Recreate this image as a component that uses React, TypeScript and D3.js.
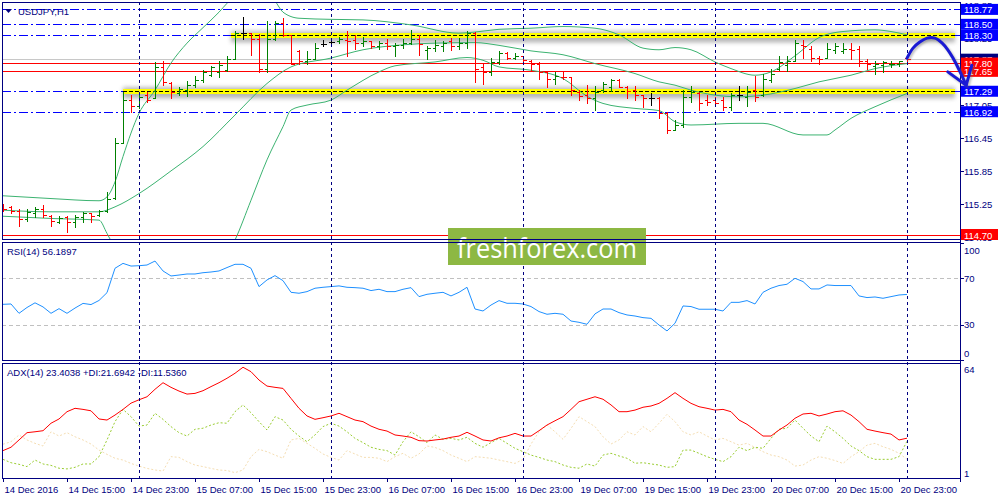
import React from "react";
import * as d3 from "d3";

// USDJPY H1 bars, 14 Dec 07:00 .. 21 Dec 00:00
const opens = [
  115.22, 115.19, 115.13, 114.98, 115.08, 115.17, 115.03, 114.93, 115.01, 114.93,
  115.02, 115.08, 115.05, 115.13, 115.36, 116.35, 117.13, 117.02, 117.22, 117.17,
  117.73, 117.44, 117.25, 117.31, 117.4, 117.49, 117.58, 117.64, 117.67, 117.87,
  118.34, 118.34, 118.23, 117.7, 118.23, 118.53, 118.31, 118.01, 117.83, 117.87,
  118.14, 118.18, 118.19, 118.22, 118.22, 118.17, 118.2, 118.1, 118.17, 118.1,
  118.13, 118.17, 118.23, 118.04, 118.08, 118.11, 118.19, 118.1, 118.16, 118.34,
  117.73, 117.63, 117.81, 117.98, 117.89, 117.92, 117.84, 117.79, 117.63, 117.51,
  117.55, 117.54, 117.28, 117.22, 117.16, 117.32, 117.36, 117.49, 117.36, 117.31,
  117.22, 117.16, 117.16, 116.89, 116.59, 116.68, 117.19, 117.25, 117.13, 117.13,
  117.13, 117.0, 117.22, 117.19, 117.31, 117.22, 117.49, 117.7, 117.76, 117.83,
  118.13, 118.05, 117.89, 117.89, 118.04, 118.02, 118.05, 118.05, 117.83, 117.75,
  117.76, 117.78, 117.78, 117.89,
];
const highs = [
  115.25, 115.22, 115.16, 115.16, 115.2, 115.23, 115.05, 115.03, 115.03, 115.05,
  115.1, 115.09, 115.15, 115.46, 116.45, 117.28, 117.23, 117.22, 117.28, 117.82,
  117.84, 117.46, 117.36, 117.48, 117.57, 117.67, 117.75, 117.84, 117.93, 118.38,
  118.64, 118.34, 118.32, 118.56, 118.56, 118.61, 118.31, 118.04, 118.01, 118.16,
  118.22, 118.2, 118.27, 118.38, 118.31, 118.28, 118.2, 118.2, 118.23, 118.16,
  118.23, 118.4, 118.31, 118.1, 118.22, 118.19, 118.25, 118.25, 118.38, 118.36,
  117.79, 117.9, 118.01, 118.0, 117.99, 117.93, 117.85, 117.81, 117.64, 117.64,
  117.64, 117.54, 117.31, 117.4, 117.39, 117.46, 117.52, 117.52, 117.38, 117.38,
  117.23, 117.25, 117.19, 116.92, 116.77, 117.32, 117.38, 117.28, 117.22, 117.19,
  117.19, 117.25, 117.38, 117.38, 117.57, 117.61, 117.7, 117.93, 117.92, 118.22,
  118.22, 118.1, 117.92, 118.17, 118.17, 118.16, 118.16, 118.1, 117.87, 117.84,
  117.83, 117.83, 117.84, 117.9,
];
const lows = [
  115.13, 115.08, 114.86, 114.95, 115.02, 115.02, 114.86, 114.9, 114.75, 114.84,
  114.93, 114.93, 115.03, 115.1, 115.34, 116.35, 116.92, 116.98, 117.1, 117.17,
  117.4, 117.17, 117.22, 117.21, 117.36, 117.46, 117.57, 117.54, 117.66, 117.87,
  118.23, 117.95, 117.64, 117.64, 118.22, 118.29, 117.78, 117.78, 117.79, 117.87,
  118.1, 118.12, 118.17, 117.92, 118.05, 118.1, 118.08, 118.05, 118.05, 117.93,
  118.08, 118.14, 117.95, 117.87, 118.02, 118.02, 118.04, 118.05, 118.07, 117.46,
  117.43, 117.58, 117.78, 117.87, 117.87, 117.81, 117.66, 117.52, 117.37, 117.43,
  117.52, 117.22, 117.14, 117.07, 116.96, 117.28, 117.3, 117.37, 117.16, 117.14,
  117.01, 117.05, 116.8, 116.53, 116.59, 116.65, 117.1, 116.95, 117.04, 117.02,
  116.95, 116.95, 117.14, 117.02, 117.12, 117.21, 117.46, 117.67, 117.66, 117.83,
  117.89, 117.83, 117.78, 117.89, 117.99, 117.99, 117.87, 117.75, 117.7, 117.61,
  117.63, 117.73, 117.75, 117.79,
];
const closes = [
  115.16, 115.13, 114.98, 115.1, 115.17, 115.05, 114.95, 114.99, 114.93, 115.02,
  115.08, 115.03, 115.13, 115.34, 116.35, 117.13, 117.02, 117.18, 117.14, 117.73,
  117.46, 117.28, 117.33, 117.4, 117.5, 117.64, 117.73, 117.76, 117.87, 118.34,
  118.34, 118.23, 117.7, 118.23, 118.53, 118.31, 117.79, 117.83, 117.87, 118.07,
  118.14, 118.18, 118.23, 118.19, 118.16, 118.2, 118.1, 118.17, 118.1, 118.13,
  118.17, 118.23, 118.15, 118.08, 118.13, 118.17, 118.1, 118.17, 118.34, 117.7,
  117.63, 117.81, 117.98, 117.89, 117.92, 117.85, 117.79, 117.63, 117.52, 117.57,
  117.54, 117.31, 117.21, 117.16, 117.28, 117.43, 117.49, 117.37, 117.3, 117.22,
  117.16, 117.16, 116.89, 116.59, 116.68, 117.19, 117.28, 117.07, 117.1, 117.08,
  117.0, 117.22, 117.22, 117.28, 117.19, 117.52, 117.6, 117.81, 117.83, 118.16,
  118.1, 117.89, 117.87, 118.05, 118.1, 118.05, 118.04, 117.83, 117.79, 117.79,
  117.81, 117.79, 117.83, 117.87,
];

// Bollinger bands read at knots (bar index -> price)
const bbUpperIdx = [0, 6, 12, 13, 14, 15, 17, 19, 21, 23, 25, 27, 28, 31, 33, 34, 35, 37, 41, 45, 51, 57, 59, 62, 66, 70, 74, 77, 80, 82, 84, 86, 89, 91, 94, 96, 99, 102, 105, 109, 111, 113];
const bbUpper = [115.4, 115.35, 115.31, 115.38, 115.65, 116.11, 116.89, 117.31, 117.8, 118.16, 118.44, 118.72, 118.88, 119.2, 119.05, 118.92, 118.72, 118.61, 118.59, 118.58, 118.49, 118.34, 118.36, 118.41, 118.43, 118.46, 118.43, 118.31, 118.07, 118.04, 118.08, 118.04, 117.82, 117.7, 117.58, 117.64, 117.93, 118.26, 118.37, 118.4, 118.37, 118.31];
const bbMiddleIdx = [0, 6, 12, 14, 17, 21, 25, 29, 33, 36, 41, 45, 50, 54, 59, 62, 66, 70, 74, 79, 82, 84, 86, 89, 92, 95, 99, 102, 106, 109, 113];
const bbMiddle = [115.14, 115.11, 115.11, 115.2, 115.44, 115.85, 116.29, 116.86, 117.43, 117.73, 117.89, 118.04, 118.13, 118.16, 118.17, 118.12, 118.02, 117.95, 117.79, 117.61, 117.46, 117.4, 117.31, 117.22, 117.19, 117.22, 117.34, 117.46, 117.58, 117.7, 117.79];
const bbLowerIdx = [0, 6, 12, 13, 14, 16, 20, 24, 27, 29, 31, 33, 35, 36, 38, 41, 43, 47, 49, 54, 58, 60, 62, 66, 70, 73, 75, 79, 82, 84, 86, 92, 95, 100, 103, 104, 106, 109, 113];
const bbLower = [115.03, 114.99, 114.96, 114.72, 114.45, 114.0, 113.6, 113.7, 114.1, 114.6, 115.32, 116.05, 116.65, 116.95, 117.04, 117.13, 117.31, 117.64, 117.75, 117.82, 117.9, 117.85, 117.73, 117.67, 117.52, 117.2, 117.07, 116.98, 116.94, 116.74, 116.68, 116.71, 116.71, 116.5, 116.5, 116.59, 116.8, 117.01, 117.25];

const rsi = [
  47.7, 48, 40, 45, 49, 45.5, 40, 44, 40, 44.5, 48.5, 47.5, 51, 57.7, 78.6, 82.8, 80.5, 80.8, 81.4, 84.8,
  76.3, 72, 72.8, 73.7, 73.7, 74.8, 75.4, 76.3, 79.2, 82, 82, 78.6, 62.9, 68.6, 72.3, 68, 58, 57.2, 58.6, 61.5,
  62.3, 62.9, 63.5, 62.3, 62, 61.5, 59.5, 60.6, 58.6, 58.6, 60.6, 62, 54.3, 56.3, 57.2, 58, 54.9, 58, 62.3, 43.7,
  42, 47.1, 50.9, 48.6, 48.6, 48, 45.8, 41.5, 39.2, 40, 39.2, 33.4, 32.3, 30.6, 39.5, 43.7, 43.7, 40.6, 38.6, 37.7,
  36.3, 35.7, 30, 24.9, 31.5, 46.3, 45.8, 43.5, 43.5, 43.5, 42, 49.4, 49.4, 50.9, 48, 58, 61.5, 63.8, 64.9, 70,
  67.2, 60.9, 60.9, 64.3, 63.8, 63.8, 63.8, 54.9, 53.5, 54, 52.9, 54.3, 55.7, 56.19,
];
const adx = [
  16.4, 18.3, 22.4, 26.5, 27, 27.6, 31.8, 34.2, 38.3, 40.2, 39.6, 38.8, 34.2, 33.6, 36.4, 39.6, 43.1, 45, 46.7, 50.9,
  54.6, 52, 49.9, 48.2, 48.6, 50.1, 52.4, 54.6, 57.1, 59.9, 63.3, 60.8, 56.1, 52.7, 52, 51.4, 45.8, 40.2, 35.9, 34,
  34.9, 35.9, 37.4, 35.5, 33.6, 32.7, 30.2, 28.4, 27.4, 25.2, 24.6, 23.9, 22, 21.8, 22.4, 22.9, 23.9, 24.6, 26.7, 24.6,
  22.4, 21.8, 23.6, 24.6, 26.1, 24.6, 24.6, 27.6, 30.8, 33.2, 35.5, 39.6, 43.9, 45.3, 46.7, 45.3, 42.1, 38.3, 38.3, 39.2,
  40.8, 41.5, 43, 45.8, 49, 45.8, 43, 41.1, 40.2, 39.2, 39.6, 38.3, 33.6, 31.2, 28, 24.6, 24.6, 28, 30.8, 34.6,
  37, 37.4, 35.9, 37, 38.3, 38.8, 36.4, 32.7, 28.4, 27.4, 26.5, 25.7, 22.4, 23.4,
];
const plusDi = [
  11.5, 9.6, 8.7, 7.4, 11.1, 8.9, 8.1, 6.5, 6.1, 7, 8.9, 8.9, 13, 22.4, 32.7, 39.6, 35.5, 30.2, 30.8, 37.4,
  34, 29.9, 26.5, 24.6, 28.4, 29, 30.8, 32.1, 31.8, 38.3, 42.1, 37.7, 32.7, 28, 35.5, 33.6, 28.4, 24.6, 21.4, 25.2,
  29.9, 31.8, 30.2, 27, 23.3, 20.9, 18.3, 17.1, 16.4, 13.9, 21.4, 27, 24.2, 20.9, 25.2, 22.8, 23.3, 22.4, 23.9, 20.5,
  18.3, 20.9, 23.3, 20.5, 17.7, 15.8, 13.9, 12.6, 11.1, 10.2, 8.3, 7, 6.5, 8.9, 7.7, 13.9, 14.9, 13.4, 12.1, 9.3,
  9.6, 8.9, 8.3, 7, 7.4, 16.7, 16.7, 14.9, 13, 11.5, 10.2, 13, 18.3, 16.4, 18.3, 17.7, 23.3, 28.4, 29, 33.6,
  29, 24.6, 21.4, 30.2, 27, 23.3, 19, 16.4, 13, 11.5, 11.5, 11.5, 13, 21.69,
];
const minusDi = [
  20, 21.4, 25.2, 22.4, 20.5, 19, 27, 24.6, 26.5, 24.2, 22.4, 20.1, 16.7, 14.3, 12.1, 11.1, 9.2, 7.7, 6.4, 5.5,
  4.9, 13, 12.6, 10.2, 8.3, 7.4, 6.4, 5.5, 5.2, 4, 5.5, 13, 17.1, 15.8, 13.9, 12.1, 22.4, 23.3, 20.5, 17.7,
  14.5, 12.6, 11.1, 16.4, 14.5, 12.6, 12.6, 12.1, 10.2, 13, 14.9, 12.1, 14.5, 19, 18.2, 16.4, 13.9, 12.1, 10.2, 13,
  12.6, 12.1, 11.1, 10.2, 9.2, 11.5, 20.1, 27, 30.8, 27, 22.8, 28.9, 35.5, 32.7, 29.9, 24.2, 20.1, 22.4, 27, 25.2,
  29.9, 27, 31.8, 36.8, 32.7, 27, 25.2, 27, 24.6, 22.4, 23.3, 21.4, 19.5, 20.5, 18.2, 15.8, 13.9, 13, 11.1, 7.7,
  8.3, 11.1, 13, 12.1, 10.8, 9.2, 13, 15.8, 19.5, 20.5, 18.6, 17.1, 14.9, 11.54,
];

const timeLabels = ["14 Dec 2016", "14 Dec 15:00", "14 Dec 23:00", "15 Dec 07:00", "15 Dec 15:00", "15 Dec 23:00", "16 Dec 07:00", "16 Dec 15:00", "16 Dec 23:00", "19 Dec 07:00", "19 Dec 15:00", "19 Dec 23:00", "20 Dec 07:00", "20 Dec 15:00", "20 Dec 23:00"];
const timeLabelIdx = [0, 8, 16, 24, 32, 40, 48, 56, 64, 72, 80, 88, 96, 104, 112];
const daySepIdx = [17, 41, 65, 89, 113];

const priceTicks = [118.85, 118.25, 117.65, 117.05, 116.45, 115.85, 115.25, 114.65];
const blueLevels = [118.77, 118.5, 118.3, 117.29, 116.92];
const redLevels = [117.8, 117.65, 114.7];
const zonePrices = [118.3, 117.29];
const zoneStartIdx = [28.5, 15];
const zoneEndIdx = 119;
const bidPrice = 117.87;

// hand drawn forecast arrow (bar index, price)
const arrowIdx = [113, 113.75, 114.6, 115.5, 116.5, 117.4, 118.1, 118.75, 119.4, 119.9, 120.4];
const arrowPrice = [117.89, 118.07, 118.18, 118.25, 118.25, 118.16, 118.04, 117.89, 117.71, 117.56, 117.4];
const arrowBarbIdx = [118.1, 120.4, 121.1];
const arrowBarbPrice = [117.64, 117.4, 117.76];

const rsiLevels = [70, 30];
const rsiTicks = [100, 70, 30, 0];
const adxTicks = [64, 1];

const FONT = "'Liberation Sans', Arial, sans-serif";
const NAVY = "#000080";

export default function App() {
  const AX = 960;
  const x = d3.scaleLinear().domain([0, 113]).range([3, 907]);
  const yP = d3.scaleLinear().domain([114.7, 118.77]).range([234.5, 9.4]);
  const yR = d3.scaleLinear().domain([0, 100]).range([360, 243.3]);
  const yA = d3.scaleLinear().domain([1, 64]).range([478, 366]);
  const cx = (i: number) => Math.round(x(i)) + 0.5;
  const cy = (s: (v: number) => number, v: number) => Math.round(s(v)) + 0.5;

  const band = (idx: number[], vals: number[]) =>
    d3.line<number>().x((_, k) => x(idx[k])).y((d) => yP(d)).curve(d3.curveMonotoneX)(vals) || "";
  const series = (vals: number[], s: d3.ScaleLinear<number, number>) =>
    d3.line<number>().x((_, k) => x(k)).y((d) => s(d))(vals) || "";
  const arrow = d3.line<number>().x((_, k) => x(arrowIdx[k])).y((d) => yP(d)).curve(d3.curveCatmullRom)(arrowPrice) || "";
  const barbs = d3.line<number>().x((_, k) => x(arrowBarbIdx[k])).y((d) => yP(d))(arrowBarbPrice) || "";

  const boxLabel = (p: number, fill: string, key: string) => (
    <g key={key}>
      <rect x={961} y={yP(p) - 5.5} width={37} height={11} fill={fill} />
      <text x={964} y={yP(p) + 0.5} fill="#fff" fontSize={9.5} dominantBaseline="central">{p.toFixed(2)}</text>
    </g>
  );

  return (
    <svg width={1000} height={500} style={{ position: "fixed", left: 0, top: 0, background: "#fff" }} fontFamily={FONT}>
      <defs>
        <clipPath id="mainClip"><rect x={2} y={2} width={AX - 2} height={238} /></clipPath>
        <clipPath id="rsiClip"><rect x={2} y={242} width={AX - 2} height={119} /></clipPath>
        <clipPath id="adxClip"><rect x={2} y={363} width={AX - 2} height={115} /></clipPath>
        <filter id="blur" x="-10%" y="-200%" width="120%" height="500%"><feGaussianBlur stdDeviation="2" /></filter>
        <filter id="blur1" x="-20%" y="-20%" width="140%" height="140%"><feGaussianBlur stdDeviation="1.2" /></filter>
      </defs>
      <rect width={1000} height={500} fill="#fff" />

      {/* main panel */}
      <g clipPath="url(#mainClip)">
        <line x1={2} x2={AX} y1={cy(yP, bidPrice)} y2={cy(yP, bidPrice)} stroke="#c8c8c8" shapeRendering="crispEdges" />
        {zonePrices.map((p, k) => (
          <rect key={"sh" + k} x={x(zoneStartIdx[k])} y={yP(p) - 4} width={x(zoneEndIdx) - x(zoneStartIdx[k])} height={11} fill="#7a7a7a" opacity={0.55} filter="url(#blur)" />
        ))}
        {blueLevels.map((p) => (
          <line key={"b" + p} x1={2} x2={AX} y1={cy(yP, p)} y2={cy(yP, p)} stroke="#0000ff" strokeDasharray="9,3,2,3" shapeRendering="crispEdges" />
        ))}
        {zonePrices.map((p, k) => (
          <g key={"z" + k} shapeRendering="crispEdges">
            <rect x={x(zoneStartIdx[k])} y={Math.round(yP(p)) - 2} width={x(zoneEndIdx) - x(zoneStartIdx[k])} height={5} fill="#ffff00" />
            <line x1={x(zoneStartIdx[k])} x2={x(zoneEndIdx)} y1={cy(yP, p)} y2={cy(yP, p)} stroke="#000000" strokeDasharray="4,2" />
          </g>
        ))}
        {redLevels.map((p) => (
          <line key={"r" + p} x1={2} x2={AX} y1={cy(yP, p)} y2={cy(yP, p)} stroke="#ff0000" strokeWidth={1} shapeRendering="crispEdges" />
        ))}
        <path d={band(bbUpperIdx, bbUpper)} fill="none" stroke="#3cb371" />
        <path d={band(bbMiddleIdx, bbMiddle)} fill="none" stroke="#3cb371" />
        <path d={band(bbLowerIdx, bbLower)} fill="none" stroke="#3cb371" />
        {closes.map((c, i) => {
          const col = c > opens[i] ? "#008000" : c < opens[i] ? "#ff0000" : "#000000";
          const xi = cx(i);
          return (
            <g key={"bar" + i} stroke={col} shapeRendering="crispEdges">
              <line x1={xi} x2={xi} y1={Math.round(yP(highs[i]))} y2={Math.round(yP(lows[i])) + 1} />
              <line x1={xi - 3} x2={xi} y1={cy(yP, opens[i])} y2={cy(yP, opens[i])} />
              <line x1={xi} x2={xi + 3.5} y1={cy(yP, c)} y2={cy(yP, c)} />
            </g>
          );
        })}
      </g>
      <text x={18} y={11} fontSize={9.5} fill={NAVY} dominantBaseline="central">USDJPY,H1</text>
      <path d="M5,9 L12,9 L8.5,13 Z" fill={NAVY} />

      {/* RSI */}
      <g clipPath="url(#rsiClip)">
        {rsiLevels.map((v) => (
          <line key={"rl" + v} x1={2} x2={AX} y1={cy(yR, v)} y2={cy(yR, v)} stroke="#c0c0c0" strokeDasharray="4,3" />
        ))}
        <path d={series(rsi, yR)} fill="none" stroke="#1e90ff" />
      </g>
      <text x={7} y={251} fontSize={9.5} fill={NAVY} dominantBaseline="central">RSI(14) 56.1897</text>

      {/* ADX */}
      <g clipPath="url(#adxClip)">
        <path d={series(minusDi, yA)} fill="none" stroke="#f5deb3" strokeDasharray="2,2" />
        <path d={series(plusDi, yA)} fill="none" stroke="#9acd32" strokeDasharray="2,2" />
        <path d={series(adx, yA)} fill="none" stroke="#ff0000" />
      </g>
      <text x={7} y={372} fontSize={9.5} fill={NAVY} dominantBaseline="central">ADX(14) 23.4038 +DI:21.6942 -DI:11.5360</text>

      {/* day separators */}
      {daySepIdx.map((i) => (
        <line key={"sep" + i} x1={cx(i)} x2={cx(i)} y1={2} y2={478} stroke={NAVY} strokeDasharray="3,3" />
      ))}

      {/* watermark */}
      <rect x={448} y={228} width={198} height={37} fill="#8db843" />
      <text x={547} y={247} fontFamily="'Open Sans', sans-serif" fontSize={27} fill="#fff" textAnchor="middle" dominantBaseline="central" textLength={180} lengthAdjust="spacingAndGlyphs">freshforex.com</text>

      {/* frames */}
      <g stroke={NAVY} fill="none" shapeRendering="crispEdges">
        <rect x={2.5} y={2.5} width={AX - 2} height={237} />
        <rect x={2.5} y={242.5} width={AX - 2} height={118} />
        <rect x={2.5} y={363.5} width={AX - 2} height={114.5} />
        <line x1={AX + 0.5} x2={AX + 0.5} y1={2} y2={482} />
        {priceTicks.map((p) => <line key={"pt" + p} x1={AX} x2={AX + 4} y1={cy(yP, p)} y2={cy(yP, p)} />)}
        {rsiTicks.map((v) => <line key={"rt" + v} x1={AX} x2={AX + 4} y1={cy(yR, v)} y2={cy(yR, v)} />)}
        {timeLabelIdx.map((i) => <line key={"tt" + i} x1={cx(i)} x2={cx(i)} y1={478} y2={482} />)}
      </g>

      {/* price axis */}
      {priceTicks.map((p) => (
        <text key={"ptl" + p} x={964} y={yP(p) + 0.5} fontSize={9.5} fill={NAVY} dominantBaseline="central">{p.toFixed(2)}</text>
      ))}
      {boxLabel(bidPrice, NAVY, "bid")}
      {boxLabel(117.65, "#ff0000", "r2")}
      {boxLabel(117.8, "#ff0000", "r1")}
      {blueLevels.map((p) => boxLabel(p, "#0000ff", "bl" + p))}
      {boxLabel(114.7, "#ff0000", "r3")}

      {rsiTicks.map((v) => (
        <text key={"rtl" + v} x={964} y={Math.min(353, Math.max(250, yR(v)))} fontSize={9.5} fill={NAVY} dominantBaseline="central">{v}</text>
      ))}
      {adxTicks.map((v) => (
        <text key={"atl" + v} x={964} y={v === 64 ? 369 : 473} fontSize={9.5} fill={NAVY} dominantBaseline="central">{v}</text>
      ))}

      {/* time axis */}
      {timeLabels.map((t, k) => (
        <text key={"tl" + k} x={cx(timeLabelIdx[k]) + 1} y={489} fontSize={9.5} fill={NAVY} dominantBaseline="central">{t}</text>
      ))}

      {/* forecast arrow */}
      <g fill="none" strokeLinecap="round" strokeLinejoin="round">
        <g transform="translate(1.5,1.5)" stroke="#666" opacity={0.45} strokeWidth={3} filter="url(#blur1)">
          <path d={arrow} />
          <path d={barbs} />
        </g>
        <path d={arrow} stroke="#1a1ad4" strokeWidth={3} />
        <path d={barbs} stroke="#1a1ad4" strokeWidth={3} />
      </g>
    </svg>
  );
}
